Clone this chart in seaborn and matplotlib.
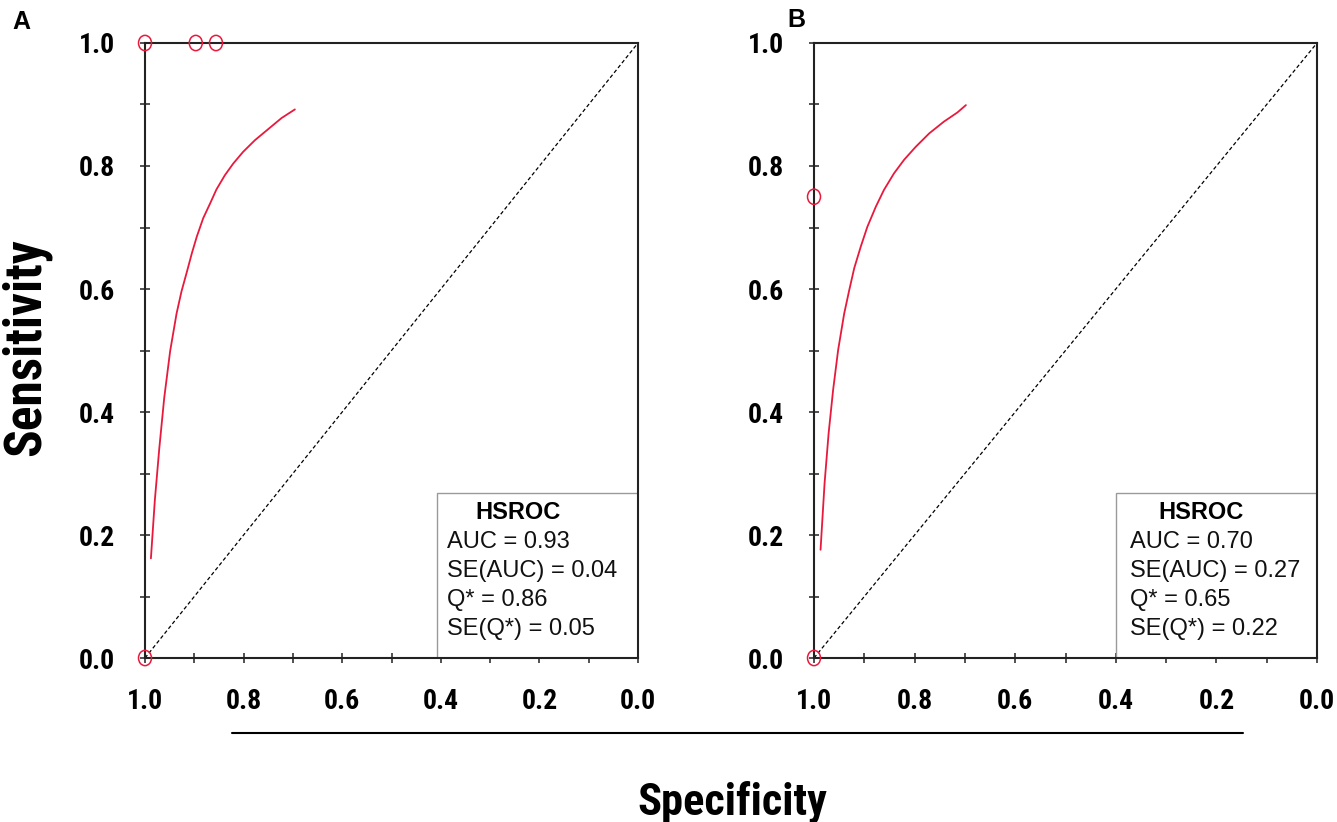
import numpy as np
import pandas as pd
import seaborn as sns
import matplotlib
matplotlib.use('Agg')
import matplotlib.pyplot as plt
import matplotlib.font_manager as fm
from matplotlib.path import Path
from matplotlib.transforms import Affine2D
from matplotlib.patches import Rectangle
from matplotlib.lines import Line2D

# HSROC summary curves (specificity, sensitivity)
spec_a = [0.988, 0.980, 0.971, 0.961, 0.949, 0.936, 0.926, 0.915, 0.905, 0.895,
          0.882, 0.868, 0.855, 0.838, 0.821, 0.801, 0.777, 0.750, 0.723, 0.696]
sens_a = [0.162, 0.257, 0.341, 0.423, 0.499, 0.560, 0.596, 0.628, 0.658, 0.685,
          0.715, 0.739, 0.762, 0.785, 0.804, 0.823, 0.842, 0.860, 0.878, 0.892]
spec_b = [0.987, 0.979, 0.971, 0.962, 0.952, 0.940, 0.930, 0.920, 0.907, 0.894,
          0.877, 0.861, 0.841, 0.821, 0.798, 0.771, 0.742, 0.715, 0.698]
sens_b = [0.176, 0.284, 0.365, 0.436, 0.501, 0.560, 0.598, 0.634, 0.669, 0.701,
          0.734, 0.761, 0.788, 0.810, 0.831, 0.853, 0.872, 0.887, 0.899]

# individual studies
study_spec_a = [1.0, 0.897, 0.856, 1.0]
study_sens_a = [1.0, 1.0, 1.0, 0.0]
study_spec_b = [1.0, 1.0]
study_sens_b = [0.75, 0.0]

# chance line
diag_spec = [1.0, 0.0]
diag_sens = [0.0, 1.0]

stats_a = ['AUC = 0.93', 'SE(AUC) = 0.04', 'Q* = 0.86', 'SE(Q*) = 0.05']
stats_b = ['AUC = 0.70', 'SE(AUC) = 0.27', 'Q* = 0.65', 'SE(Q*) = 0.22']
ticks = [round(v * 0.1, 1) for v in range(11)]
tick_labels = ['0.0', '', '0.2', '', '0.4', '', '0.6', '', '0.8', '', '1.0']

sns.set_style('white')
plt.rcParams['font.family'] = ['Liberation Sans', 'DejaVu Sans']
plt.rcParams['text.color'] = 'black'

# look for a condensed bold face for the axis text, like the original
names = {f.name for f in fm.fontManager.ttflist}
narrow_prop = None
for cand in ['Liberation Sans Narrow', 'Roboto Condensed', 'DejaVu Sans Condensed',
             'Open Sans Condensed']:
    if cand in names:
        narrow_prop = fm.FontProperties(family=cand, weight='bold')
        break
if narrow_prop is None:
    for f in fm.fontManager.ttflist:
        if f.stretch in ('condensed', 'semi-condensed', 'extra-condensed') and \
                f.weight in ('bold', 700) and 'Sans' in f.name:
            narrow_prop = fm.FontProperties(fname=f.fname)
            break
if narrow_prop is None:
    narrow_prop = fm.FontProperties(family='Liberation Sans', weight='bold')

red = '#e8193c'
ink = '#222222'
ellipse = Path.unit_circle().transformed(Affine2D().scale(0.85, 1.0))

fig = plt.figure(figsize=(13.37, 8.22), dpi=100)
ax_a = fig.add_axes([0.10845, 0.19951, 0.36874, 0.74818])
ax_b = fig.add_axes([0.60883, 0.19951, 0.37621, 0.74818])


def draw_panel(ax, spec, sens, st_spec, st_sens, stats, box_x0, text_x, head_x):
    curve = pd.DataFrame({'spec': spec, 'sens': sens})
    sns.lineplot(data=curve, x='spec', y='sens', ax=ax, color=red, lw=1.3,
                 sort=False, estimator=None, solid_joinstyle='round')
    ax.plot(diag_spec, diag_sens, color='black', lw=0.9, ls=(0, (3, 2)))
    studies = pd.DataFrame({'spec': st_spec, 'sens': st_sens})
    sns.scatterplot(data=studies, x='spec', y='sens', ax=ax, marker=ellipse,
                    s=11 ** 2, facecolor='none', edgecolor=red, linewidth=1.1,
                    zorder=4)
    ax.collections[-1].set_clip_on(False)

    ax.set_xlim(1.0, 0.0)
    ax.set_ylim(0.0, 1.0)
    ax.set_xticks(ticks)
    ax.set_xticklabels(tick_labels)
    ax.set_yticks(ticks)
    ax.set_yticklabels(tick_labels)
    ax.tick_params(direction='inout', length=7, width=1.1, color=ink,
                   bottom=True, left=True, pad=18)
    for lab in ax.get_xticklabels() + ax.get_yticklabels():
        lab.set_fontproperties(narrow_prop)
        lab.set_fontsize(20)
        lab.set_color('black')
    for sp in ax.spines.values():
        sp.set_color(ink)
        sp.set_linewidth(1.5)
        sp.set_visible(True)
    ax.set_xlabel('')
    ax.set_ylabel('')

    ax.add_patch(Rectangle((box_x0, 0.0), 1.0 - box_x0, 0.268,
                           transform=ax.transAxes, facecolor='white',
                           edgecolor='#9a9a9a', lw=1.0, zorder=2))
    ax.text(head_x, 0.237, 'HSROC', transform=ax.transAxes, ha='center',
            va='center', fontsize=17, fontweight='bold', zorder=3)
    for i, line in enumerate(stats):
        ax.text(text_x, 0.189 - i * 0.0475, line, transform=ax.transAxes,
                ha='left', va='center', fontsize=17, color='#111111', zorder=3)


draw_panel(ax_a, spec_a, sens_a, study_spec_a, study_sens_a, stats_a,
           0.592, 0.613, 0.757)
draw_panel(ax_b, spec_b, sens_b, study_spec_b, study_sens_b, stats_b,
           0.600, 0.628, 0.769)

fig.text(0.009, 0.988, 'A', fontsize=18, fontweight='bold', va='top')
fig.text(0.589, 0.990, 'B', fontsize=18, fontweight='bold', va='top')

spec_lab = fig.text(0.548, 0.0085, 'Specificity', fontproperties=narrow_prop,
                    ha='center', va='baseline')
spec_lab.set_fontsize(32)
sens_lab = fig.text(0.019, 0.578, 'Sensitivity', fontproperties=narrow_prop,
                    ha='center', va='center', rotation=90)
sens_lab.set_fontsize(37)
fig.add_artist(Line2D([0.1735, 0.9297], [0.1083, 0.1083], color='black',
                      lw=1.5, transform=fig.transFigure))

fig.savefig('out.png', dpi=100)
